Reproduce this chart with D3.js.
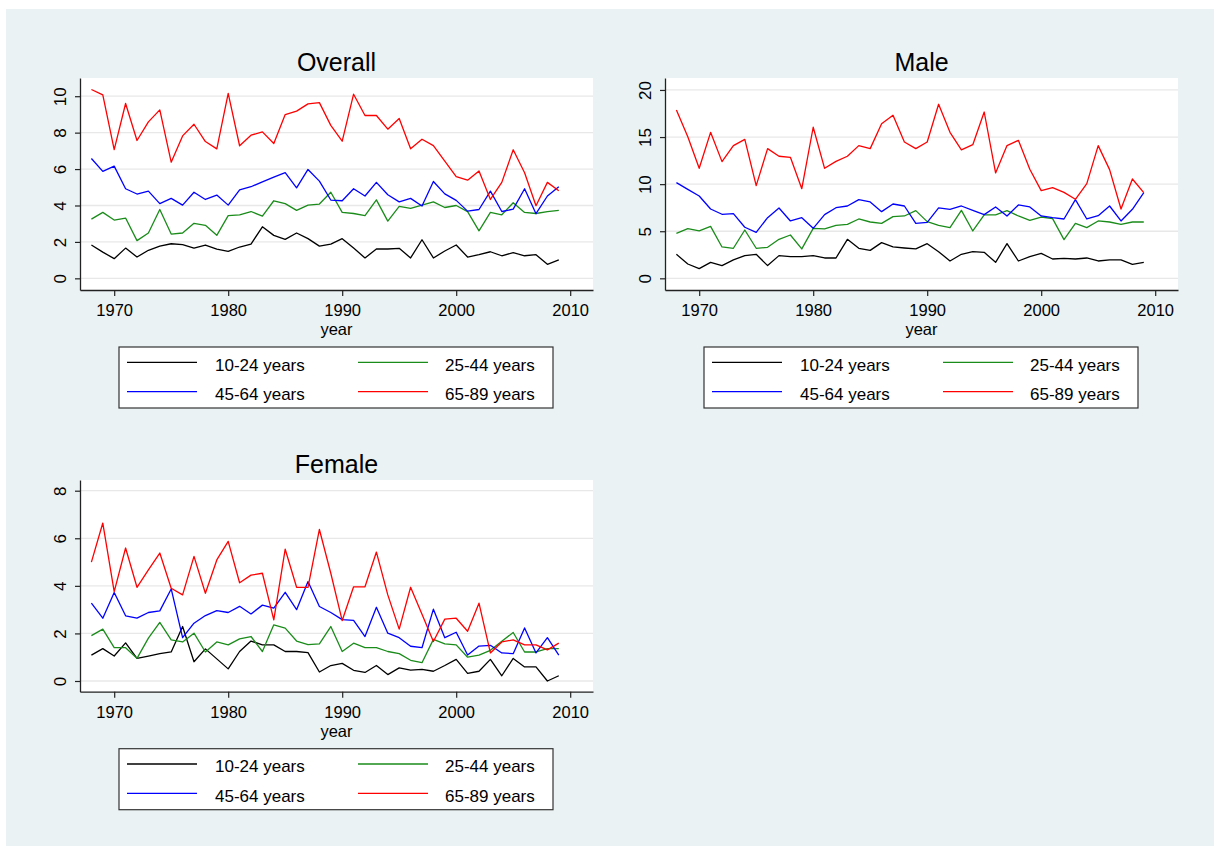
<!DOCTYPE html>
<html>
<head>
<meta charset="utf-8">
<script src="https://cdn.jsdelivr.net/npm/d3@7"></script>
<style>
  html, body { margin: 0; padding: 0; background: #ffffff; }
  svg { display: block; }
  text { font-family: "Liberation Sans", Arial, sans-serif; fill: #000; }
</style>
</head>
<body>
<svg id="chart" width="1214" height="846"></svg>
<script>
const years = d3.range(1968, 2010);
const seriesNames = ["10-24 years", "25-44 years", "45-64 years", "65-89 years"];
const seriesColors = ["#000000", "#1a8c1a", "#0000ff", "#ff0000"];
const xTicks = [1970, 1980, 1990, 2000, 2010];

// Overall
const overall10_24 = [1.83,1.44,1.08,1.66,1.17,1.54,1.77,1.90,1.85,1.66,1.83,1.61,1.48,1.72,1.88,2.83,2.36,2.14,2.49,2.18,1.77,1.88,2.18,1.66,1.12,1.61,1.61,1.65,1.12,2.12,1.12,1.50,1.83,1.17,1.30,1.46,1.24,1.41,1.24,1.30,0.77,1.01];
const overall25_44 = [3.25,3.62,3.20,3.31,2.07,2.49,3.78,2.43,2.49,3.02,2.91,2.36,3.44,3.49,3.67,3.42,4.26,4.10,3.73,4.02,4.08,4.73,3.62,3.56,3.44,4.31,3.14,3.95,3.84,4.02,4.20,3.89,4.00,3.66,2.61,3.62,3.49,4.15,3.62,3.56,3.66,3.73];
const overall45_64 = [6.58,5.87,6.16,4.92,4.63,4.79,4.10,4.39,4.02,4.73,4.33,4.57,4.02,4.86,5.03,5.30,5.56,5.80,4.97,5.98,5.34,4.30,4.26,4.92,4.52,5.27,4.59,4.20,4.39,3.97,5.32,4.64,4.28,3.69,3.78,4.79,3.67,3.80,4.92,3.55,4.52,5.03];
const overall65_89 = [10.37,10.07,7.07,9.60,7.57,8.59,9.25,6.38,7.82,8.46,7.51,7.11,10.15,7.28,7.86,8.04,7.40,8.99,9.18,9.58,9.65,8.40,7.53,10.11,8.94,8.94,8.19,8.78,7.11,7.64,7.29,6.44,5.58,5.39,5.90,4.33,5.27,7.06,5.80,3.99,5.27,4.81];
const overallTicks = [0, 2, 4, 6, 8, 10];

// Male
const male10_24 = [2.55,1.52,1.03,1.70,1.35,1.95,2.41,2.55,1.35,2.41,2.30,2.30,2.41,2.16,2.16,4.14,3.19,2.97,3.79,3.33,3.22,3.12,3.68,2.83,1.84,2.55,2.83,2.76,1.70,3.68,1.84,2.30,2.65,2.05,2.12,2.05,2.16,1.84,1.95,1.95,1.49,1.70];
const male25_44 = [4.78,5.27,5.03,5.52,3.33,3.19,5.13,3.19,3.29,4.14,4.60,3.12,5.31,5.24,5.63,5.73,6.30,5.98,5.84,6.55,6.62,7.19,6.02,5.63,5.38,7.22,5.03,6.73,6.73,7.19,6.62,6.16,6.51,6.34,4.11,5.84,5.38,6.09,5.98,5.73,5.98,5.98];
const male45_64 = [10.16,9.45,8.74,7.36,6.80,6.87,5.42,4.88,6.44,7.47,6.09,6.44,5.31,6.76,7.50,7.68,8.35,8.11,7.08,7.89,7.68,5.84,5.95,7.47,7.33,7.68,7.22,6.76,7.58,6.62,7.79,7.58,6.62,6.44,6.30,8.35,6.30,6.65,7.68,6.09,7.33,9.10];
const male65_89 = [17.88,15.04,11.68,15.50,12.39,14.09,14.76,9.84,13.77,12.96,12.85,9.52,16.04,11.68,12.42,12.96,14.09,13.77,16.42,17.31,14.48,13.77,14.48,18.48,15.50,13.63,14.19,17.66,11.19,14.09,14.65,11.58,9.31,9.63,9.13,8.39,10.05,14.09,11.54,7.36,10.55,9.10];
const maleTicks = [0, 5, 10, 15, 20];

// Female
const female10_24 = [1.09,1.36,1.05,1.60,0.95,1.05,1.15,1.22,2.29,0.81,1.35,0.93,0.51,1.24,1.68,1.52,1.52,1.24,1.24,1.19,0.38,0.65,0.74,0.45,0.36,0.65,0.27,0.55,0.46,0.49,0.41,0.65,0.91,0.32,0.41,0.91,0.22,0.95,0.59,0.59,0.00,0.22];
const female25_44 = [1.91,2.18,1.40,1.40,0.95,1.80,2.46,1.73,1.64,2.01,1.22,1.64,1.52,1.77,1.87,1.24,2.36,2.22,1.68,1.53,1.56,2.29,1.24,1.59,1.40,1.40,1.24,1.15,0.87,0.77,1.75,1.56,1.52,1.00,1.09,1.29,1.67,2.04,1.22,1.22,1.36,1.36];
const female45_64 = [3.27,2.64,3.72,2.74,2.64,2.88,2.95,3.87,1.82,2.43,2.75,2.96,2.88,3.14,2.82,3.19,3.06,3.73,3.00,4.18,3.13,2.88,2.58,2.55,1.87,3.10,2.01,1.82,1.46,1.40,3.02,1.82,2.05,1.09,1.47,1.50,1.18,1.15,2.23,1.18,1.82,1.09];
const female65_89 = [5.00,6.64,3.76,5.59,3.94,4.67,5.38,3.90,3.62,5.24,3.69,5.09,5.87,4.13,4.45,4.53,2.57,5.54,3.94,3.94,6.37,4.53,2.54,3.96,3.96,5.42,3.62,2.18,3.94,2.81,1.66,2.60,2.64,2.09,3.27,1.18,1.64,1.73,1.52,1.52,1.31,1.59];
const femaleTicks = [0, 2, 4, 6, 8];

const panels = [
  { title: "Overall", left: 80, top: 78, right: 593, bottom: 290, yDomain: [-0.64, 11.0], yTicks: overallTicks,
    series: [overall10_24, overall25_44, overall45_64, overall65_89] },
  { title: "Male", left: 665, top: 78, right: 1178, bottom: 290, yDomain: [-1.24, 21.27], yTicks: maleTicks,
    series: [male10_24, male25_44, male45_64, male65_89] },
  { title: "Female", left: 80, top: 480, right: 593, bottom: 691.7, yDomain: [-0.45, 8.45], yTicks: femaleTicks,
    series: [female10_24, female25_44, female45_64, female65_89] }
];

const svg = d3.select("#chart");
svg.append("rect").attr("x", 6).attr("y", 9).attr("width", 1208).attr("height", 837).attr("fill", "#eaf2f3");

panels.forEach(p => {
  const g = svg.append("g");
  const x = d3.scaleLinear().domain([1967, 2012]).range([p.left, p.right]);
  const y = d3.scaleLinear().domain(p.yDomain).range([p.bottom, p.top]);

  g.append("rect").attr("x", p.left).attr("y", p.top)
    .attr("width", p.right - p.left).attr("height", p.bottom - p.top).attr("fill", "#ffffff");

  // grid
  g.selectAll(".grid").data(p.yTicks).enter().append("line")
    .attr("x1", p.left).attr("x2", p.right)
    .attr("y1", d => y(d)).attr("y2", d => y(d))
    .attr("stroke", "#e8e8e8").attr("stroke-width", 1.3);

  // series
  const line = d3.line().x((d, i) => x(years[i])).y(d => y(d));
  p.series.forEach((s, k) => {
    g.append("path").datum(s).attr("d", line)
      .attr("fill", "none").attr("stroke", seriesColors[k]).attr("stroke-width", 1.3)
      .attr("stroke-linejoin", "round");
  });

  // y axis
  const yAxis = g.append("g").attr("transform", `translate(${p.left},0)`)
    .call(d3.axisLeft(y).tickValues(p.yTicks).tickSize(5).tickFormat(d3.format("d")).tickSizeOuter(0));
  yAxis.select(".domain").attr("stroke", "#222").attr("stroke-width", 1.3);
  yAxis.selectAll(".tick line").attr("stroke", "#222").attr("stroke-width", 1.2);
  yAxis.selectAll(".tick text")
    .attr("transform", "rotate(-90)")
    .attr("x", 0).attr("y", -14).attr("dy", 0)
    .attr("text-anchor", "middle")
    .style("font-size", "17px").style("font-family", '"Liberation Sans", Arial, sans-serif').attr("fill", "#000");

  // x axis
  const xAxis = g.append("g").attr("transform", `translate(0,${p.bottom})`)
    .call(d3.axisBottom(x).tickValues(xTicks).tickSize(6).tickFormat(d3.format("d")).tickSizeOuter(0));
  xAxis.select(".domain").attr("stroke", "#222").attr("stroke-width", 1.3);
  xAxis.selectAll(".tick line").attr("stroke", "#222").attr("stroke-width", 1.2);
  xAxis.selectAll(".tick text").attr("y", 26).attr("dy", 0)
    .style("font-size", "16.5px").style("font-family", '"Liberation Sans", Arial, sans-serif').attr("fill", "#000");

  const cx = (p.left + p.right) / 2;
  g.append("text").attr("x", cx).attr("y", p.top - 7).attr("text-anchor", "middle")
    .style("font-size", "25px").text(p.title);
  g.append("text").attr("x", cx).attr("y", p.bottom + 45).attr("text-anchor", "middle")
    .style("font-size", "16.5px").text("year");

  // legend
  const lg = g.append("g").attr("transform", `translate(${p.left},${p.bottom})`);
  lg.append("rect").attr("x", 39).attr("y", 57).attr("width", 434).attr("height", 61)
    .attr("fill", "#ffffff").attr("stroke", "#333").attr("stroke-width", 1.2);
  [0, 1, 2, 3].forEach(k => {
    const col = k % 2, row = Math.floor(k / 2);
    const lx = col === 0 ? 47 : 278;
    const ly = row === 0 ? 72.3 : 101.7;
    lg.append("line").attr("x1", lx).attr("x2", lx + 70).attr("y1", ly).attr("y2", ly)
      .attr("stroke", seriesColors[k]).attr("stroke-width", 1.3);
    lg.append("text").attr("x", col === 0 ? 135 : 365).attr("y", row === 0 ? 80.7 : 110)
      .style("font-size", "17px").text(seriesNames[k]);
  });
});
</script>
</body>
</html>
